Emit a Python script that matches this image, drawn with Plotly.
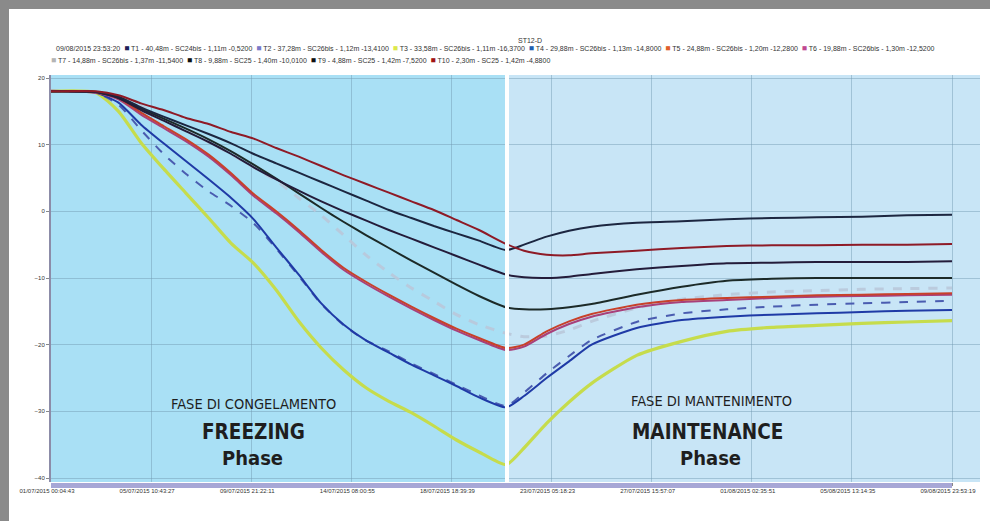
import plotly.graph_objects as go

# ---------------- data ----------------
TIMES = ["2015-07-01 00:04:43", "2015-07-03 00:00", "2015-07-04 00:00", "2015-07-05 00:00",
         "2015-07-06 00:00", "2015-07-07 00:00", "2015-07-08 00:00", "2015-07-09 00:00",
         "2015-07-10 00:00", "2015-07-11 00:00", "2015-07-12 00:00", "2015-07-13 00:00",
         "2015-07-14 00:00", "2015-07-15 00:00", "2015-07-16 00:00", "2015-07-17 00:00",
         "2015-07-18 00:00", "2015-07-19 00:00", "2015-07-20 00:00", "2015-07-21 05:00",
         "2015-07-22 00:00", "2015-07-23 00:00", "2015-07-24 00:00", "2015-07-25 00:00",
         "2015-07-27 00:00", "2015-07-29 00:00", "2015-07-31 00:00", "2015-08-02 00:00",
         "2015-08-04 00:00", "2015-08-06 00:00", "2015-08-08 00:00", "2015-08-09 23:53:19"]

T1 = [18.0, 17.9, 17.2, 15.6, 14.2, 12.9, 11.6, 10.2, 8.6, 7.2, 5.8, 4.4, 3.0, 1.6, 0.2, -1.0,
      -2.2, -3.3, -4.4, -5.8, -5.0, -3.8, -2.9, -2.3, -1.7, -1.5, -1.2, -1.0, -0.9, -0.8, -0.6, -0.5]
T2 = [18.0, 17.8, 16.0, 12.2, 8.6, 5.6, 3.0, 0.8, -1.8, -5.6, -9.7, -13.9, -17.1, -19.4, -21.0, -22.8,
      -24.4, -26.0, -27.6, -29.2, -27.2, -24.3, -21.7, -19.3, -16.6, -15.3, -14.7, -14.3, -14.0, -13.8, -13.6, -13.4]
T3 = [18.0, 17.8, 15.0, 10.3, 6.4, 2.7, -1.0, -4.8, -7.8, -11.8, -16.5, -20.5, -23.8, -26.5, -28.5, -30.2,
      -32.2, -34.3, -36.1, -38.0, -35.5, -31.8, -28.6, -25.8, -21.6, -19.5, -18.0, -17.4, -17.1, -16.8, -16.6, -16.4]
T4 = [18.0, 17.8, 16.3, 13.0, 10.2, 7.5, 4.8, 2.0, -1.2, -5.4, -9.5, -13.8, -17.0, -19.4, -21.2, -23.0,
      -24.6, -26.2, -27.9, -29.4, -27.7, -25.0, -22.5, -20.0, -17.5, -16.3, -15.8, -15.5, -15.3, -15.1, -14.9, -14.8]
T5 = [18.0, 17.9, 17.0, 14.8, 12.8, 10.8, 8.5, 5.7, 2.6, 0.0, -2.8, -5.8, -8.5, -10.6, -12.5, -14.3,
      -16.0, -17.6, -19.0, -20.5, -20.0, -18.0, -16.5, -15.4, -14.0, -13.3, -13.0, -12.8, -12.6, -12.5, -12.4, -12.3]
T6 = [18.1, 17.8, 16.8, 14.5, 12.5, 10.5, 8.2, 5.4, 2.3, -0.3, -3.1, -6.1, -8.8, -10.9, -12.8, -14.6,
      -16.3, -17.9, -19.3, -20.8, -20.3, -18.4, -16.9, -15.8, -14.4, -13.6, -13.3, -13.0, -12.8, -12.7, -12.6, -12.5]
T7 = [18.0, 17.9, 17.4, 15.8, 14.0, 12.2, 10.4, 8.6, 6.6, 4.6, 2.0, -0.6, -3.6, -6.6, -9.2, -11.5,
      -13.5, -15.5, -17.0, -18.3, -18.8, -18.7, -17.8, -16.5, -14.5, -13.2, -12.5, -12.1, -11.9, -11.7, -11.6, -11.5]
T8 = [18.0, 17.9, 17.0, 15.4, 13.9, 12.4, 10.8, 9.0, 7.0, 4.9, 2.7, 0.5, -1.6, -3.6, -5.5, -7.4,
      -9.2, -11.0, -12.7, -14.4, -14.7, -14.7, -14.4, -13.9, -12.5, -11.3, -10.4, -10.1, -10.0, -10.0, -10.0, -10.0]
T9 = [18.0, 17.9, 17.0, 15.2, 13.6, 12.0, 10.4, 8.6, 6.6, 4.8, 3.1, 1.5, 0.0, -1.4, -2.8, -4.1,
      -5.4, -6.7, -8.0, -9.5, -9.9, -10.0, -9.8, -9.4, -8.7, -8.2, -7.8, -7.7, -7.6, -7.6, -7.6, -7.5]
T10 = [18.0, 18.0, 17.4, 16.2, 15.2, 14.0, 13.1, 11.9, 10.9, 9.5, 8.2, 6.8, 5.4, 4.1, 2.8, 1.5,
       0.2, -1.3, -2.8, -4.9, -5.9, -6.5, -6.6, -6.3, -5.9, -5.5, -5.2, -5.1, -5.1, -5.0, -5.0, -4.9]

SERIES_NAMES = ["T1", "T2", "T3", "T4", "T5", "T6", "T7", "T8", "T9", "T10"]
LEGEND_LABELS = ["T1 - 40,48m - SC24bis - 1,11m -0,5200", "T2 - 37,28m - SC26bis - 1,12m -13,4100",
                 "T3 - 33,58m - SC26bis - 1,11m -16,3700", "T4 - 29,88m - SC26bis - 1,13m -14,8000",
                 "T5 - 24,88m - SC26bis - 1,20m -12,2800", "T6 - 19,88m - SC26bis - 1,30m -12,5200",
                 "T7 - 14,88m - SC26bis - 1,37m -11,5400", "T8 - 9,88m - SC25 - 1,40m -10,0100",
                 "T9 - 4,88m - SC25 - 1,42m -7,5200", "T10 - 2,30m - SC25 - 1,42m -4,8800"]
LEGEND_STAMP = "09/08/2015 23:53:20"
TITLE = "ST12-D"

TICK_VALS = ["2015-07-01 00:04:43", "2015-07-05 10:43:27", "2015-07-09 21:22:11", "2015-07-14 08:00:55",
             "2015-07-18 18:39:39", "2015-07-23 05:18:23", "2015-07-27 15:57:07", "2015-08-01 02:35:51",
             "2015-08-05 13:14:35", "2015-08-09 23:53:19"]
TICK_TEXT = ["01/07/2015 00:04:43", "05/07/2015 10:43:27", "09/07/2015 21:22:11", "14/07/2015 08:00:55",
             "18/07/2015 18:39:39", "23/07/2015 05:18:23", "27/07/2015 15:57:07", "01/08/2015 02:35:51",
             "05/08/2015 13:14:35", "09/08/2015 23:53:19"]
Y_TICKS = [20, 10, 0, -10, -20, -30, -40]

X_START = "2015-07-01 00:04:43"
PHASE_SWITCH = "2015-07-21 05:50"
X_END = "2015-08-11 05:43"

# ---------------- styles ----------------
LINE_COLORS = ["#1c2640", "#4a5cb0", "#c6dc4c", "#1f3aa6", "#c8402a", "#a8407a",
               "rgba(185,200,218,0.9)", "#1c2a28", "#241c3a", "#8e1a26"]
LINE_WIDTHS = [2, 2, 3.2, 2, 2, 2, 3, 2, 2, 2]
LINE_DASH = ["solid", "dash", "solid", "solid", "solid", "solid", "dash", "solid", "solid", "solid"]
SQUARE_COLORS = ["#1f1f5a", "#7a7ac8", "#dde84a", "#1f5fb0", "#e0602a", "#c04890",
                 "#b4b4b4", "#101010", "#101010", "#a01414"]

W, H = 990, 521
ML, MR, MT, MB = 51, 10, 75, 39
PW, PH = W - ML - MR, H - MT - MB


def px(x):
    return (x - ML) / PW


def py(y):
    return (H - MB - y) / PH


series = [T1, T2, T3, T4, T5, T6, T7, T8, T9, T10]
draw_order = [6, 2, 1, 3, 5, 4, 7, 8, 0, 9]

fig = go.Figure()
for i in draw_order:
    fig.add_trace(go.Scatter(
        x=TIMES, y=series[i], mode="lines", name=SERIES_NAMES[i],
        line=dict(color=LINE_COLORS[i], width=LINE_WIDTHS[i], dash=LINE_DASH[i], shape="spline", smoothing=0.6),
        showlegend=False, hoverinfo="skip"))

LEFT_BG = "#a9e0f5"
RIGHT_BG = "#c8e5f6"
FRAME = "#8a8a8a"
shapes = [
    dict(type="rect", xref="x", yref="paper", x0=X_START, x1=PHASE_SWITCH, y0=0, y1=1,
         fillcolor=LEFT_BG, line=dict(width=0), layer="below"),
    dict(type="rect", xref="x", yref="paper", x0=PHASE_SWITCH, x1=X_END, y0=0, y1=1,
         fillcolor=RIGHT_BG, line=dict(width=0), layer="below"),
    dict(type="line", xref="x", yref="paper", x0=PHASE_SWITCH, x1=PHASE_SWITCH, y0=0, y1=1,
         line=dict(color="white", width=4), layer="above"),
    # range bar below the plot
    dict(type="rect", xref="x", yref="paper", x0=X_START, x1=TICK_VALS[-1], y0=py(488), y1=py(483),
         fillcolor="#a7a7d6", line=dict(width=0), layer="above"),
    # grey frame of the picture
    dict(type="rect", xref="paper", yref="paper", x0=px(0), x1=px(9), y0=py(H), y1=py(0),
         fillcolor=FRAME, line=dict(width=0)),
    dict(type="rect", xref="paper", yref="paper", x0=px(0), x1=px(W), y0=py(9), y1=py(0),
         fillcolor=FRAME, line=dict(width=0)),
]


def sq(c):
    return f'<span style="color:{c};font-size:8.5px">■</span>'


row1 = LEGEND_STAMP + "  " + "  ".join(sq(SQUARE_COLORS[i]) + " " + LEGEND_LABELS[i] for i in range(6))
row2 = "  ".join(sq(SQUARE_COLORS[i]) + " " + LEGEND_LABELS[i] for i in range(6, 10))

annos = [
    dict(text=TITLE, xref="paper", yref="paper", x=px(530), y=py(40),
         showarrow=False, font=dict(size=7, color="#333", family="Liberation Sans"), xanchor="center", yanchor="middle"),
    dict(text=row1, xref="paper", yref="paper", x=px(54), y=py(48),
         showarrow=False, font=dict(size=7, color="#333", family="Liberation Sans"), xanchor="left", yanchor="middle"),
    dict(text=row2, xref="paper", yref="paper", x=px(49), y=py(60),
         showarrow=False, font=dict(size=7, color="#333", family="Liberation Sans"), xanchor="left", yanchor="middle"),
]

NARROW = "DejaVu Sans Condensed, Liberation Sans Narrow, sans-serif"
phase_texts = [
    (253, 404, "FASE DI CONGELAMENTO", 14.5),
    (253, 432, "<b>FREEZING</b>", 20.5),
    (252, 458, "<b>Phase</b>", 20),
    (711, 401, "FASE DI MANTENIMENTO", 14.5),
    (707, 432, "<b>MAINTENANCE</b>", 20.5),
    (710, 458, "<b>Phase</b>", 20),
]
for x_, y_, txt, sz in phase_texts:
    annos.append(dict(text=txt, xref="paper", yref="paper", x=px(x_), y=py(y_),
                      showarrow=False, xanchor="center", yanchor="middle",
                      font=dict(size=sz, color="#1e1e1e", family=NARROW)))

fig.update_layout(
    width=W, height=H,
    margin=dict(l=ML, r=MR, t=MT, b=MB),
    paper_bgcolor="white", plot_bgcolor=RIGHT_BG,
    shapes=shapes, annotations=annos, showlegend=False,
    xaxis=dict(type="date", range=[X_START, X_END], tickvals=TICK_VALS, ticktext=TICK_TEXT,
               showgrid=True, gridcolor="rgba(110,150,175,0.45)", gridwidth=1,
               ticks="outside", ticklen=3, tickcolor="#888", ticklabelshift=-4,
               tickfont=dict(size=6, color="#333", family="Liberation Sans"),
               showline=False, zeroline=False, layer="above traces"),
    yaxis=dict(range=[-40.6, 20.45], tickvals=Y_TICKS, showgrid=True,
               gridcolor="rgba(110,150,175,0.45)", gridwidth=1, zeroline=False,
               ticks="outside", ticklen=3, tickcolor="#888",
               tickfont=dict(size=6, color="#333", family="Liberation Sans"),
               showline=True, linecolor="#8c8ca8", linewidth=2),
)

fig.write_html("out.html", config={"displayModeBar": False},
               post_script="document.body.style.margin='0';document.body.style.overflow='hidden';")
